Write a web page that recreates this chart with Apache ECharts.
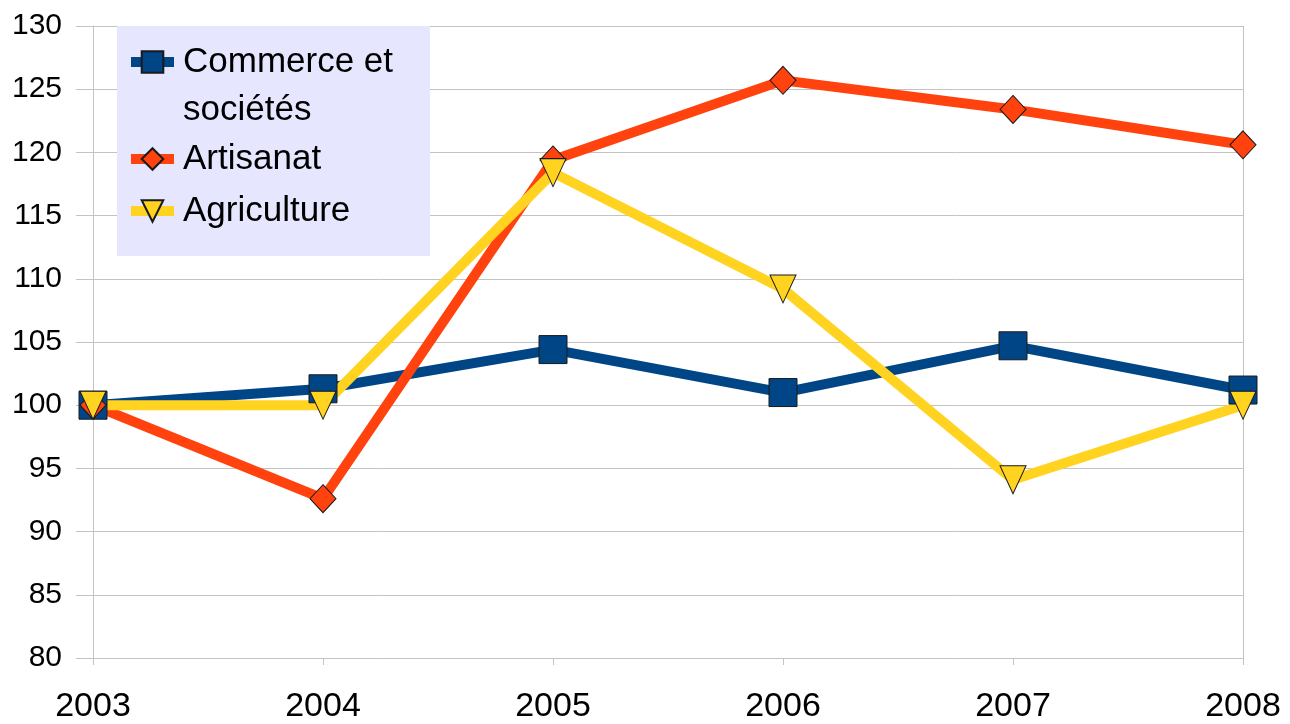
<!DOCTYPE html>
<html>
<head>
<meta charset="utf-8">
<script src="https://cdn.jsdelivr.net/npm/echarts@6/dist/echarts.min.js"></script>
<style>
  html, body { margin: 0; padding: 0; background: #fff; }
  #chart { width: 1290px; height: 724px; }
</style>
</head>
<body>
<div id="chart"></div>
<script>
// données
var years = ['2003', '2004', '2005', '2006', '2007', '2008'];
var commerce = [100, 101.3, 104.4, 101.0, 104.7, 101.2];
var artisanat = [100, 92.6, 119.4, 125.7, 123.4, 120.6];
var agriculture = [100, 100, 118.4, 109.2, 94.1, 100];
var yTicks = [80, 85, 90, 95, 100, 105, 110, 115, 120, 125, 130];

var gridColor = '#c3c3c3';
var font = '"Liberation Sans", Arial, sans-serif';
var triangleDown = 'path://M0,0 L10,0 L5,10 Z';

var chart = echarts.init(document.getElementById('chart'));

function legendAt(name, top) {
  return {
    data: [name],
    left: 126,
    top: top,
    padding: 0,
    itemWidth: 43,
    itemHeight: 27,
    selectedMode: false,
    z: 5,
    lineStyle: { width: 10 },
    formatter: function (n) {
      return n === 'Commerce et sociétés' ? 'Commerce et' : n;
    },
    textStyle: { fontFamily: font, fontSize: 35, color: '#000', lineHeight: 40, padding: [0, 0, 0, 4] }
  };
}

var option = {
  animation: false,
  backgroundColor: '#fff',
  grid: { left: 93, right: 47, top: 26, bottom: 66, outerBoundsMode: 'none' },
  graphic: [
    {
      type: 'rect',
      z: 1,
      shape: { x: 117, y: 26, width: 313, height: 230 },
      style: { fill: '#e6e6ff' }
    },
    {
      type: 'text',
      z: 5,
      x: 183,
      y: 110,
      style: { text: 'sociétés', fontFamily: font, fontSize: 35, fill: '#000', verticalAlign: 'middle' }
    }
  ],
  legend: [
    legendAt('Commerce et sociétés', 42),
    legendAt('Artisanat', 139),
    legendAt('Agriculture', 191)
  ],
  xAxis: {
    type: 'category',
    data: years,
    boundaryGap: false,
    axisLine: { show: true, lineStyle: { color: gridColor, width: 1 } },
    axisTick: { show: true, length: 7, lineStyle: { color: gridColor } },
    splitLine: {
      show: true,
      interval: function (i) { return i === 0 || i === years.length - 1; },
      lineStyle: { color: gridColor, width: 1 }
    },
    axisLabel: { fontFamily: font, fontSize: 34, color: '#000', margin: 32 }
  },
  yAxis: {
    type: 'value',
    min: yTicks[0],
    max: yTicks[yTicks.length - 1],
    interval: 5,
    axisLine: { show: true, lineStyle: { color: gridColor, width: 1 } },
    axisTick: { show: true, length: 17, lineStyle: { color: gridColor } },
    splitLine: { show: true, lineStyle: { color: gridColor, width: 1 } },
    axisLabel: { fontFamily: font, fontSize: 30, color: '#000', margin: 31 }
  },
  series: [
    {
      name: 'Commerce et sociétés',
      type: 'line',
      data: commerce,
      symbol: 'rect',
      symbolSize: 28,
      lineStyle: { color: '#004586', width: 10 },
      itemStyle: { color: '#004586', borderColor: '#1a1a1a', borderWidth: 1 }
    },
    {
      name: 'Artisanat',
      type: 'line',
      data: artisanat,
      symbol: 'diamond',
      symbolSize: [26, 28],
      lineStyle: { color: '#ff420e', width: 10 },
      itemStyle: { color: '#ff420e', borderColor: '#1a1a1a', borderWidth: 1 }
    },
    {
      name: 'Agriculture',
      type: 'line',
      data: agriculture,
      symbol: triangleDown,
      symbolSize: [26, 28],
      lineStyle: { color: '#ffd320', width: 10 },
      itemStyle: { color: '#ffd320', borderColor: '#1a1a1a', borderWidth: 1 }
    }
  ]
};

chart.setOption(option);
</script>
</body>
</html>
